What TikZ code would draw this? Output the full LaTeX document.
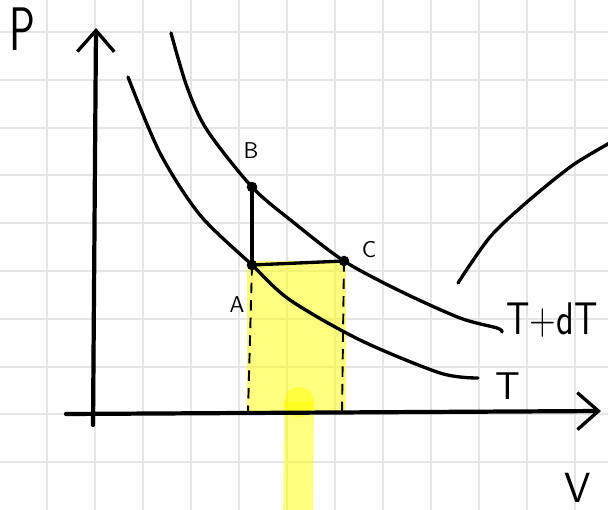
\documentclass[tikz,border=0pt]{standalone}
\definecolor{gridgray}{RGB}{229,229,229}
\definecolor{marker}{RGB}{255,255,0}
\usepackage{tikz}
\usetikzlibrary{arrows.meta}

\tikzset{
  gridline/.style={color=gridgray, line width=1.1pt},
  curve/.style={line width=1.9pt, line cap=round, line join=round},
  axis/.style={line width=2.4pt, line cap=round,
    -{Straight Barb[length=12pt, width=21pt, line width=1.9pt]}},
  handlabel/.style={font=\sffamily\fontsize{13}{13}\selectfont, inner sep=0pt},
  dot/.style={circle, fill=black, inner sep=0pt, minimum size=6pt},
  highlight/.style={fill=marker, fill opacity=0.5},
}

\begin{document}
\begin{tikzpicture}[x=0.02cm, y=-0.02cm]
  \useasboundingbox (0,0) rectangle (608,510);
  %% 0. Paper grid
  \foreach \gx in {47,95,...,575} \draw[gridline] (\gx,0) -- (\gx,510);
  \foreach \gy in {32,79.8,...,510} \draw[gridline] (0,\gy) -- (608,\gy);

  %% 1. Points
  \coordinate (A) at (252,265);
  \coordinate (B) at (252,187);
  \coordinate (C) at (344,261);
  \coordinate (Afoot) at (248,412);
  \coordinate (Cfoot) at (342,412);

  %% 2. Shaded regions
  \fill[highlight, rounded corners=3pt] (247,261) rectangle (346,413);
  \draw[marker, opacity=0.5, line width=17pt] (299,402) -- (298,530);
  \fill[marker, opacity=0.5] (299,402) circle (15);

  %% 3. Axes
  \coordinate (ybot) at (93,425);
  \coordinate (ytop) at (96,28);
  \coordinate (xleft) at (66,414);
  \coordinate (xright) at (601,411);
  \draw[axis] (ybot) -- (ytop);
  \draw[axis] (xleft) -- (xright);

  %% 4. Curves
  \draw[curve] plot[smooth] coordinates
    {(128,77) (160,153) (200,215) (A) (290,300) (360,340) (440,373) (478,378)};
  \draw[curve] plot[smooth] coordinates
    {(171,33) (187,87) (207,130) (B) (293,222) (C) (400,291) (460,318) (497,328) (502,332)};
  \draw[curve] plot[smooth] coordinates
    {(458,283) (490,237) (527,202) (573,165) (615,140)};

  %% 5. Process lines
  \draw[curve, line width=2.4pt] (A) -- (B);
  \draw[curve] (A) -- (C);
  \draw[dashed, line width=1.1pt, dash pattern=on 6pt off 4pt] (A) -- (Afoot);
  \draw[dashed, line width=1.1pt, dash pattern=on 6pt off 4pt] (C) -- (Cfoot);
  \node[dot] (dA) at (A) {};
  \node[dot] (dB) at (B) {};
  \node[dot] (dC) at (C) {};

  %% 6. Labels
  \node[handlabel] (lA) at (237,305) {A};
  \node[handlabel] (lB) at (251,151) {B};
  \node[handlabel] (lC) at (369,250) {C};
  \node[handlabel, font=\sffamily\fontsize{22}{22}\selectfont] (lT) at (508,386) {T};
  \node[handlabel, font=\sffamily\fontsize{26}{26}\selectfont, xscale=0.8, anchor=west] (lTd) at (506,320) {T+dT};
  \node[handlabel, font=\sffamily\fontsize{24}{24}\selectfont] (lV) at (578,488) {V};
  \node[handlabel, font=\sffamily\fontsize{35}{35}\selectfont, xscale=0.7] (lP) at (22,29) {P};
\end{tikzpicture}
\end{document}
